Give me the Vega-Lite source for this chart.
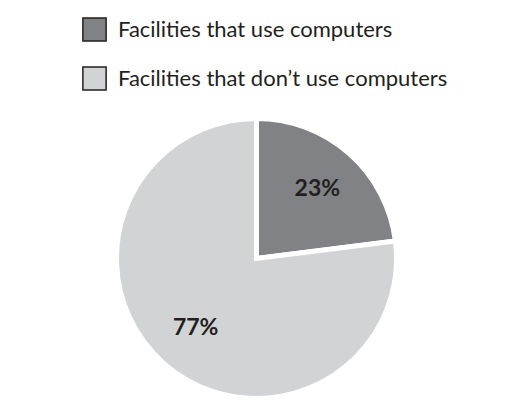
{
  "$schema": "https://vega.github.io/schema/vega-lite/v6.json",
  "width": 513,
  "height": 403,
  "autosize": {"type": "fit", "contains": "padding"},
  "padding": {"top": 118, "left": 0, "right": 0, "bottom": 4},
  "background": "white",
  "config": {"view": {"stroke": null}, "font": "Lato"},
  "data": {
    "values": [
      {"category": "Facilities that use computers", "pct": 23, "label": "23%", "rank": 1},
      {"category": "Facilities that don\u2019t use computers", "pct": 77, "label": "77%", "rank": 2}
    ]
  },
  "encoding": {
    "theta": {"field": "pct", "type": "quantitative", "stack": true},
    "order": {"field": "rank", "type": "quantitative"}
  },
  "layer": [
    {
      "mark": {"type": "arc", "outerRadius": 140, "stroke": "white", "strokeWidth": 5},
      "encoding": {
        "color": {
          "field": "category",
          "type": "nominal",
          "scale": {
            "domain": ["Facilities that use computers", "Facilities that don\u2019t use computers"],
            "range": ["#808285", "#d1d3d4"]
          },
          "legend": {
            "title": null,
            "orient": "none",
            "legendX": 82,
            "legendY": -101,
            "symbolType": "square",
            "symbolSize": 540,
            "symbolStrokeColor": "#231f20",
            "symbolStrokeWidth": 1.5,
            "symbolOpacity": 1,
            "labelFontSize": 22,
            "labelFont": "Lato",
            "labelColor": "#231f20",
            "labelOffset": 11,
            "labelLimit": 400,
            "rowPadding": 18
          }
        }
      }
    },
    {
      "mark": {"type": "text", "radius": 92, "fontSize": 23, "fontWeight": "bold", "color": "#231f20", "font": "Lato"},
      "encoding": {"text": {"field": "label", "type": "nominal"}}
    }
  ]
}
